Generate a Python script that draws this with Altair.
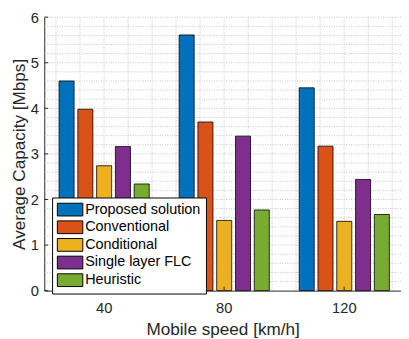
import altair as alt
import pandas as pd
import numpy as np

speeds = ["40", "80", "120"]
methods = ["Proposed solution", "Conventional", "Conditional", "Single layer FLC", "Heuristic"]
proposed = [4.60, 5.61, 4.45]
conventional = [3.98, 3.70, 3.17]
conditional = [2.74, 1.54, 1.52]
single_flc = [3.16, 3.39, 2.44]
heuristic = [2.34, 1.77, 1.67]
colors = ["#0072BD", "#D95319", "#EDB120", "#7E2F8E", "#77AC30"]
y_ticks = [0, 1, 2, 3, 4, 5, 6]
x_ticks = [40, 80, 120]

series = [proposed, conventional, conditional, single_flc, heuristic]
rows = []
for m, vals in zip(methods, series):
    for s, v in zip(speeds, vals):
        rows.append({"speed": s, "method": m, "value": v})
df = pd.DataFrame(rows)

W, H = 364, 279
FONT = "Liberation Sans"
AX = "#262626"
GRID = "#c4c4c4"

yscale = alt.Scale(domain=[0, 6], nice=False, zero=True)
xq = alt.Scale(domain=[20.08, 138.94], nice=False, zero=False)

yaxis = alt.Axis(values=y_ticks, labelFontSize=15, labelFont=FONT, labelColor=AX,
                 titleFontSize=17.5, titleFont=FONT, titleColor=AX, titleFontWeight="normal",
                 tickSize=0, labelPadding=6, titlePadding=2, domainColor=AX, domainWidth=1,
                 grid=False)
YT = "Average Capacity [Mbps]"

hgrid = alt.Chart(pd.DataFrame({"v": np.round(np.arange(0.2, 6.01, 0.2), 2)})).mark_rule(
    color=GRID, strokeDash=[1, 1.5], strokeWidth=1
).encode(y=alt.Y("v:Q", scale=yscale, axis=yaxis, title=YT))

vgrid = alt.Chart(pd.DataFrame({"v": np.arange(24, 137, 8)})).mark_rule(
    color=GRID, strokeDash=[1, 1.5], strokeWidth=1
).encode(x=alt.X("v:Q", scale=xq, axis=None))

bars = alt.Chart(df).mark_bar(stroke="black", strokeWidth=0.8, opacity=1).encode(
    x=alt.X("speed:N", sort=speeds, title="Mobile speed [km/h]",
            scale=alt.Scale(paddingInner=0.249, paddingOuter=0.11, align=0.56),
            axis=alt.Axis(labelAngle=0, labelFontSize=15, labelFont=FONT, labelColor=AX,
                          titleFontSize=17.5, titleFont=FONT, titleColor=AX, titleFontWeight="normal",
                          tickSize=0, labelPadding=10, titlePadding=6, domainColor=AX, domainWidth=1,
                          grid=False)),
    xOffset=alt.XOffset("method:N", sort=methods, scale=alt.Scale(paddingInner=0.2)),
    y=alt.Y("value:Q", scale=yscale, axis=yaxis, title=YT),
    color=alt.Color("method:N", sort=methods, scale=alt.Scale(domain=methods, range=colors),
                    legend=alt.Legend(orient="none", legendX=8, legendY=184, title=None,
                                      symbolType="M-2,-1H2V1H-2Z", symbolSize=169,
                                      symbolStrokeColor="black", symbolStrokeWidth=1,
                                      symbolOpacity=1, symbolOffset=6, labelOffset=8,
                                      labelFontSize=14.7, labelFont=FONT, labelColor="black",
                                      fillColor="white", strokeColor="black", padding=5,
                                      rowPadding=0, cornerRadius=0)),
)

yt = alt.Chart(pd.DataFrame({"v": y_ticks})).mark_rule(color=AX, strokeWidth=1).encode(
    y=alt.Y("v:Q", scale=yscale, axis=yaxis, title=YT), x=alt.value(0), x2=alt.value(4)
)
xt = alt.Chart(pd.DataFrame({"v": x_ticks})).mark_rule(color=AX, strokeWidth=1).encode(
    x=alt.X("v:Q", scale=xq, axis=None), y=alt.value(H), y2=alt.value(H - 4)
)

chart = alt.layer(hgrid, vgrid, bars, yt, xt).resolve_scale(x="independent").properties(
    width=W, height=H,
    autosize=alt.AutoSizeParams(type="none"),
    padding={"left": 37, "top": 6, "right": 0, "bottom": 46},
).configure_view(stroke=None)

chart.save("out.html", embed_options={"renderer": "svg", "actions": False})
